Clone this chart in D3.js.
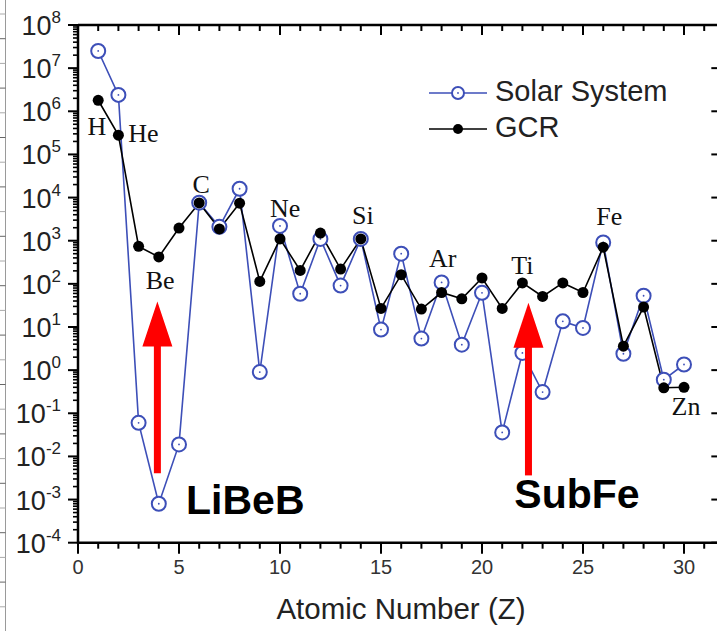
<!DOCTYPE html>
<html>
<head>
<meta charset="utf-8">
<script src="https://cdn.jsdelivr.net/npm/d3@7"></script>
<style>
  html, body { margin: 0; padding: 0; background: #fff; }
  svg { display: block; }
</style>
</head>
<body>
<div id="chart"></div>
<script>
// atomic numbers 1..30
const atomicNumbers = d3.range(1, 31);

// relative abundances
const solarSystem = [2.5e7, 2.4e6, 0.06, 8e-4, 0.019, 7.6e3, 2.1e3, 1.6e4, 0.9, 2.2e3,
  59, 1.1e3, 91, 1.1e3, 8.7, 500, 5.4, 108, 3.9, 62,
  0.036, 2.5, 0.31, 13.5, 9.5, 910, 2.4, 53, 0.6, 1.35];
const gcr = [1.8e6, 2.8e5, 740, 420, 1.96e3, 7.5e3, 1.87e3, 7.4e3, 114, 1.1e3,
  205, 1.5e3, 220, 1.1e3, 27, 163, 26, 63, 45, 137,
  27, 105, 51, 105, 63, 710, 3.6, 29, 0.39, 0.40];

// element labels: [name, z, log10 of baseline position]
const elementLabels = [
  ['H', 0.93, 5.45], ['He', 3.24, 5.28], ['C', 6.1, 4.10], ['Be', 4.07, 1.87],
  ['Ne', 10.25, 3.56], ['Si', 14.1, 3.38], ['Ar', 18.05, 2.40], ['Ti', 22.0, 2.22],
  ['Fe', 26.3, 3.37], ['Zn', 30.1, -1.03]
];

// red arrows: z, log10 of tail, log10 of tip
const arrows = [
  { z: 3.93, from: -2.39, to: 1.59 },
  { z: 22.3, from: -2.44, to: 1.56 }
];
const groupLabels = [
  { text: 'LiBeB', z: 5.35, log: -3.34 },
  { text: 'SubFe', z: 21.6, log: -3.2 }
];

const xTicks = [0, 5, 10, 15, 20, 25, 30];
const yExponents = d3.range(-4, 9);

const W = 717, H = 631;
const blue = '#3d4fb8';

const svg = d3.select('#chart').append('svg')
  .attr('width', W).attr('height', H)
  .attr('viewBox', `0 0 ${W} ${H}`);

const x = d3.scaleLinear().domain([0, 30]).range([78, 684]);
const y = d3.scaleLog().domain([1e-4, 1e8]).range([542.7, 25]);
const xRight = x(31.65);

// faint strip at the left edge (neighbouring panel in the source image)
const strip = svg.append('g').attr('stroke', '#9a9a9a').attr('stroke-width', 1);
strip.append('line').attr('x1', 5.5).attr('x2', 5.5).attr('y1', 0).attr('y2', H);
strip.selectAll('.st').data(d3.range(14, H, 24.7)).join('line')
  .attr('x1', 0).attr('x2', 5.5).attr('y1', d => d).attr('y2', d => d)
  .attr('stroke', (d, i) => i % 2 ? '#666' : '#aaa');

// frame
const frame = svg.append('g').attr('stroke', '#000').attr('stroke-width', 2.5).attr('fill', 'none');
frame.append('line').attr('x1', x(0)).attr('x2', xRight + 2).attr('y1', y(1e8)).attr('y2', y(1e8));
frame.append('line').attr('x1', x(0)).attr('x2', xRight + 2).attr('y1', y(1e-4)).attr('y2', y(1e-4));
frame.append('line').attr('x1', x(0)).attr('x2', x(0)).attr('y1', y(1e8) - 1).attr('y2', y(1e-4) + 1);

// x ticks (bottom outward, top inward)
const xMinor = d3.range(0, 32);
const ticks = svg.append('g').attr('stroke', '#000').attr('stroke-width', 2);
ticks.selectAll('.xb').data(xMinor).join('line')
  .attr('x1', d => x(d)).attr('x2', d => x(d))
  .attr('y1', y(1e-4)).attr('y2', d => y(1e-4) + (d % 5 === 0 ? 11 : 6));
ticks.selectAll('.xt').data(xMinor).join('line')
  .attr('x1', d => x(d)).attr('x2', d => x(d))
  .attr('y1', y(1e8)).attr('y2', d => y(1e8) + (d % 5 === 0 ? 10 : 6));

// y ticks: log minor on the left, majors on right
const yMinor = [];
yExponents.forEach(e => { if (e < 8) d3.range(2, 10).forEach(m => yMinor.push(m * Math.pow(10, e))); });
ticks.selectAll('.ym').data(yMinor).join('line')
  .attr('x1', x(0) - 5).attr('x2', x(0)).attr('y1', d => y(d)).attr('y2', d => y(d))
  .attr('stroke-width', 1.6);
ticks.selectAll('.yM').data(yExponents).join('line')
  .attr('x1', x(0) - 10).attr('x2', x(0)).attr('y1', e => y(Math.pow(10, e))).attr('y2', e => y(Math.pow(10, e)));
ticks.selectAll('.yr').data(yExponents).join('line')
  .attr('x1', xRight - 6).attr('x2', xRight + 3).attr('y1', e => y(Math.pow(10, e))).attr('y2', e => y(Math.pow(10, e)));

// tick labels
svg.append('g').selectAll('text').data(xTicks).join('text')
  .attr('x', d => x(d)).attr('y', 574)
  .attr('text-anchor', 'middle')
  .attr('font-family', 'Liberation Sans, Arial, sans-serif')
  .attr('font-size', 20).attr('fill', '#333')
  .text(d => d);

const yl = svg.append('g').selectAll('text').data(yExponents).join('text')
  .attr('x', 61).attr('y', e => y(Math.pow(10, e)) + 10)
  .attr('text-anchor', 'end')
  .attr('font-family', 'Liberation Sans, Arial, sans-serif')
  .attr('font-size', 27).attr('fill', '#222');
yl.append('tspan').text('10');
yl.append('tspan').attr('font-size', 17).attr('dy', -12).text(e => e);

// axis title
svg.append('text')
  .attr('x', 401).attr('y', 619)
  .attr('text-anchor', 'middle')
  .attr('font-family', 'Liberation Sans, Arial, sans-serif')
  .attr('font-size', 29.5).attr('fill', '#222')
  .text('Atomic Number (Z)');

// series
const ssData = atomicNumbers.map((z, i) => [z, solarSystem[i]]);
const gcrData = atomicNumbers.map((z, i) => [z, gcr[i]]);
const line = d3.line().x(d => x(d[0])).y(d => y(d[1]));

svg.append('path').datum(ssData).attr('d', line)
  .attr('fill', 'none').attr('stroke', blue).attr('stroke-width', 1.6);
svg.append('path').datum(gcrData).attr('d', line)
  .attr('fill', 'none').attr('stroke', '#000').attr('stroke-width', 1.6);

svg.append('g').selectAll('circle').data(ssData).join('circle')
  .attr('cx', d => x(d[0])).attr('cy', d => y(d[1])).attr('r', 7)
  .attr('fill', '#fff').attr('stroke', blue).attr('stroke-width', 2);
svg.append('g').selectAll('circle').data(ssData).join('circle')
  .attr('cx', d => x(d[0])).attr('cy', d => y(d[1])).attr('r', 0.9)
  .attr('fill', blue);
svg.append('g').selectAll('circle').data(gcrData).join('circle')
  .attr('cx', d => x(d[0])).attr('cy', d => y(d[1])).attr('r', 5.5)
  .attr('fill', '#000');

// element labels
svg.append('g').selectAll('text').data(elementLabels).join('text')
  .attr('x', d => x(d[1])).attr('y', d => y(Math.pow(10, d[2])))
  .attr('text-anchor', 'middle')
  .attr('font-family', 'Liberation Serif, Times New Roman, serif')
  .attr('font-size', 26).attr('fill', '#111')
  .text(d => d[0]);

// arrows
const ag = svg.append('g').attr('fill', '#ff0000');
arrows.forEach(a => {
  const cx = x(a.z), yTail = y(Math.pow(10, a.from)), yTip = y(Math.pow(10, a.to));
  const headLen = 45, headHalf = 15, shaftHalf = 3.5;
  ag.append('rect')
    .attr('x', cx - shaftHalf).attr('y', yTip + headLen - 1)
    .attr('width', shaftHalf * 2).attr('height', yTail - yTip - headLen + 1);
  ag.append('path')
    .attr('d', `M${cx},${yTip} L${cx + headHalf},${yTip + headLen} L${cx - headHalf},${yTip + headLen} Z`);
});

svg.append('g').selectAll('text').data(groupLabels).join('text')
  .attr('x', d => x(d.z)).attr('y', d => y(Math.pow(10, d.log)))
  .attr('font-family', 'Liberation Sans, Arial, sans-serif')
  .attr('font-weight', 'bold').attr('font-size', 41).attr('fill', '#000')
  .text(d => d.text);

// legend
const lg = svg.append('g');
lg.append('line').attr('x1', 429).attr('x2', 487).attr('y1', 93).attr('y2', 93)
  .attr('stroke', blue).attr('stroke-width', 1.6);
lg.append('circle').attr('cx', 458).attr('cy', 93).attr('r', 6)
  .attr('fill', '#fff').attr('stroke', blue).attr('stroke-width', 2);
lg.append('circle').attr('cx', 458).attr('cy', 93).attr('r', 0.9).attr('fill', blue);
lg.append('line').attr('x1', 429).attr('x2', 487).attr('y1', 129).attr('y2', 129)
  .attr('stroke', '#000').attr('stroke-width', 1.6);
lg.append('circle').attr('cx', 458).attr('cy', 129).attr('r', 5).attr('fill', '#000');
lg.selectAll('text').data([['Solar System', 101], ['GCR', 137]]).join('text')
  .attr('x', 495).attr('y', d => d[1])
  .attr('font-family', 'Liberation Sans, Arial, sans-serif')
  .attr('font-size', 29).attr('fill', '#222')
  .text(d => d[0]);
</script>
</body>
</html>
